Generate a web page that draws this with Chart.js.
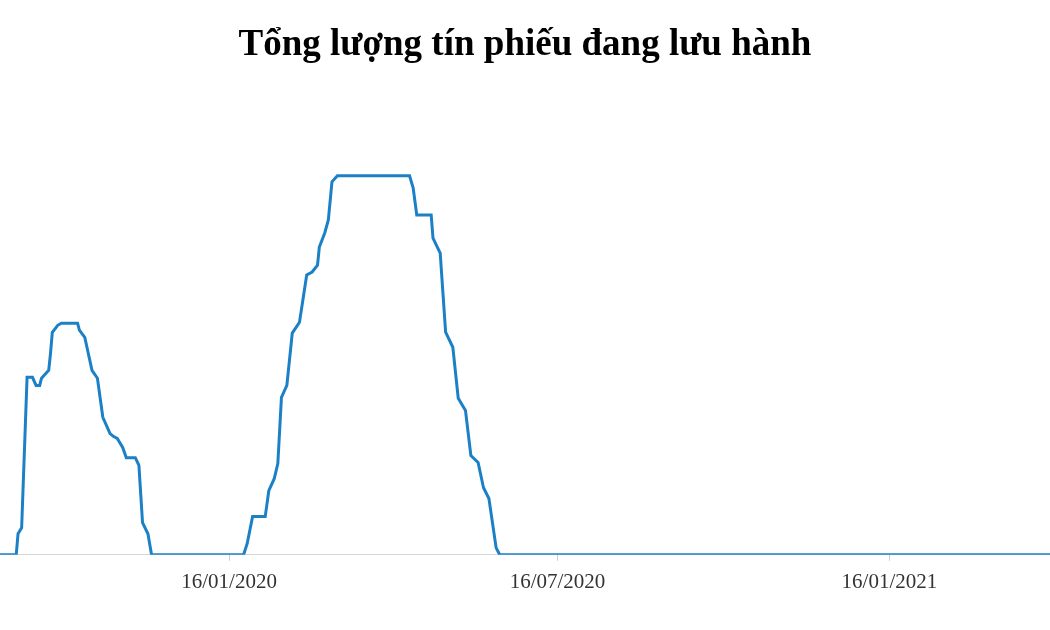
<!DOCTYPE html>
<html>
<head>
<meta charset="utf-8">
<script src="https://cdn.jsdelivr.net/npm/chart.js@4"></script>
<style>
  html, body { margin: 0; padding: 0; background: #fff; }
  #wrap { width: 1050px; height: 630px; }
</style>
</head>
<body>
<div id="wrap"><canvas id="chartTinPhieu"></canvas></div>
<script>
var ngay = ['11/09/2019','20/09/2019','21/09/2019','23/09/2019','26/09/2019','29/09/2019','01/10/2019','03/10/2019',
    '04/10/2019','07/10/2019','08/10/2019','09/10/2019','10/10/2019','13/10/2019','15/10/2019','24/10/2019',
    '25/10/2019','28/10/2019','01/11/2019','04/11/2019','07/11/2019','11/11/2019','13/11/2019','15/11/2019',
    '18/11/2019','20/11/2019','25/11/2019','27/11/2019','29/11/2019','02/12/2019','04/12/2019',
    '24/01/2020','26/01/2020','29/01/2020','05/02/2020','07/02/2020','10/02/2020','12/02/2020','14/02/2020',
    '17/02/2020','20/02/2020','24/02/2020','28/02/2020','02/03/2020','05/03/2020','06/03/2020','09/03/2020',
    '11/03/2020','13/03/2020','16/03/2020','25/04/2020','27/04/2020','29/04/2020','07/05/2020','08/05/2020',
    '12/05/2020','15/05/2020','19/05/2020','22/05/2020','26/05/2020','29/05/2020','02/06/2020','05/06/2020',
    '08/06/2020','12/06/2020','14/06/2020','15/04/2021'];
var tongLuong = [0, 0, 7, 9, 59, 59, 56.3, 56.3,
    58.7, 60.7, 61.3, 67, 74, 76.3, 77, 77,
    74.7, 72.3, 61.3, 58.7, 45.7, 40.3, 39.3, 38.7,
    35.7, 32.3, 32.3, 29.7, 10.7, 7, 0,
    0, 3.7, 12.7, 12.7, 21.3, 25.3, 30.3, 52.3,
    56.3, 73.7, 77.3, 93, 94, 96.3, 102.3, 107,
    111.3, 124, 126, 126, 122, 113, 113, 105.3,
    100.3, 74, 69, 52, 48, 33, 30.7, 22.3,
    18.7, 2.3, 0, 0];
var nhanTruc = ['16/01/2020','16/07/2020','16/01/2021'];

var goc = Date.UTC(2020, 0, 16);
function soNgay(s) {
    var p = s.split('/');
    return Math.round((Date.UTC(+p[2], +p[1] - 1, +p[0]) - goc) / 86400000);
}

var diem = ngay.map(function (d, i) { return { x: soNgay(d), y: tongLuong[i] }; });
var viTriNhan = nhanTruc.map(soNgay);
var fontSerif = '"Liberation Serif", "Times New Roman", serif';

new Chart(document.getElementById('chartTinPhieu'), {
    type: 'line',
    data: {
        datasets: [{
            label: 'Tổng lượng tín phiếu',
            data: diem,
            borderColor: '#1c80c6',
            borderWidth: 3,
            pointRadius: 0,
            tension: 0,
            fill: false
        }]
    },
    options: {
        responsive: true,
        maintainAspectRatio: false,
        animation: false,
        layout: { padding: { left: 0, right: 0, top: 0, bottom: 26 } },
        plugins: {
            legend: { display: false },
            tooltip: { enabled: false },
            title: {
                display: true,
                text: 'Tổng lượng tín phiếu đang lưu hành',
                color: '#000',
                font: { family: fontSerif, size: 37, weight: 'bold' },
                padding: { top: 23, bottom: 41 }
            }
        },
        scales: {
            x: {
                type: 'linear',
                min: soNgay(ngay[0]),
                max: soNgay(ngay[ngay.length - 1]),
                afterBuildTicks: function (axis) {
                    axis.ticks = viTriNhan.map(function (v) { return { value: v }; });
                },
                ticks: {
                    autoSkip: false,
                    maxRotation: 0,
                    padding: 9,
                    color: '#333',
                    font: { family: fontSerif, size: 21 },
                    callback: function (v) { return nhanTruc[viTriNhan.indexOf(v)]; }
                },
                grid: { drawOnChartArea: false, drawTicks: true, tickLength: 6, color: '#cccccc' },
                border: { display: true, color: '#d6d6d6', width: 1 }
            },
            y: {
                display: false,
                min: 0,
                max: 148.4
            }
        }
    }
});
</script>
</body>
</html>
